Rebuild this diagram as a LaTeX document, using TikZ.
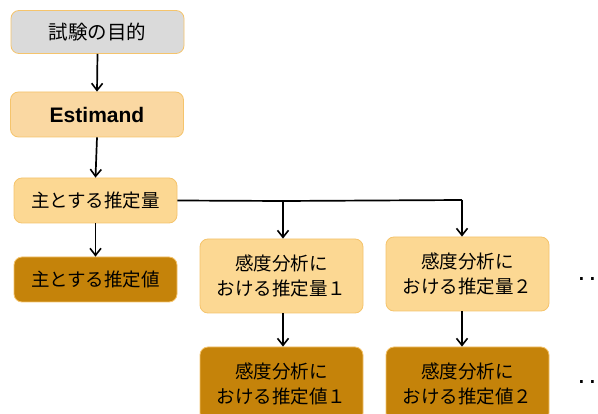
\documentclass[tikz,border=0pt]{standalone}
\usepackage{fontspec}
\setmainfont{Liberation Sans}
\newfontfamily\jp{Noto Sans CJK JP}
\usetikzlibrary{arrows.meta,calc}
\definecolor{edgec}{HTML}{F5C46C}
\definecolor{grayfill}{HTML}{DADADA}
\definecolor{peach}{HTML}{FAD8A2}
\definecolor{lightor}{HTML}{FCD893}
\definecolor{darkgold}{HTML}{C5830A}
\begin{document}
\begin{tikzpicture}[x=1pt,y=-1pt,
  box/.style={draw=edgec, rounded corners=8pt, line width=0.8pt, align=center,
    inner sep=0pt, font=\jp\fontsize{18.5}{25}\selectfont},
  wide/.style={minimum width=173pt, minimum height=43pt},
  mid/.style={minimum width=163pt, minimum height=45pt},
  tall/.style={minimum width=163pt, minimum height=74pt},
  arr/.style={-{Straight Barb[length=7pt,width=11pt,line width=1.6pt]}, line width=1.7pt},
  conn/.style={line width=1.7pt},
  dots/.style={inner sep=0pt, anchor=base west, font=\fontsize{28}{28}\selectfont}]
\path[use as bounding box, fill=white] (0,0) rectangle (598,414);

\node[box, wide, fill=grayfill, font=\jp\fontsize{19.5}{25}\selectfont] (b1) at (97.5,32) {試験の目的};
\node[box, wide, minimum height=45pt, fill=peach, font=\bfseries\fontsize{21}{24}\selectfont] (b2) at (97,114.5) {Estimand};
\node[box, mid, fill=lightor] (b3) at (95.5,200.5) {主とする推定量};
\node[box, mid, fill=darkgold] (b4) at (95.5,279.5) {主とする推定値};
\node[box, tall, fill=lightor] (b5) at (281.5,276) {感度分析に\\おける推定量１};
\node[box, tall, fill=lightor] (b6) at (467.5,274) {感度分析に\\おける推定量２};
\node[box, tall, fill=darkgold] (b7) at (281.5,384) {感度分析に\\おける推定値１};
\node[box, tall, fill=darkgold] (b8) at (467.5,384) {感度分析に\\おける推定値２};

\node[dots] (d1) at (577.5,280.5) {.\kern3.2pt.};
\node[dots] (d2) at (577.5,383.5) {.\kern3.2pt.};

\coordinate (j1) at (283,201);
\coordinate (j2) at (462,200);

\draw[arr] (b1.south) -- (b2.north);
\draw[arr] (b2.south) -- (b3.north);
\draw[arr] (b3.south) -- (b4.north);
\draw[conn] (b3.east) -- (j1) -- (j2);
\draw[arr] (j1) -- (j1 |- b5.north);
\draw[arr] (j2) -- (j2 |- b6.north);
\draw[arr] (b5.south -| j1) -- (j1 |- b7.north);
\draw[arr] (b6.south -| j2) -- (j2 |- b8.north);
\end{tikzpicture}
\end{document}
